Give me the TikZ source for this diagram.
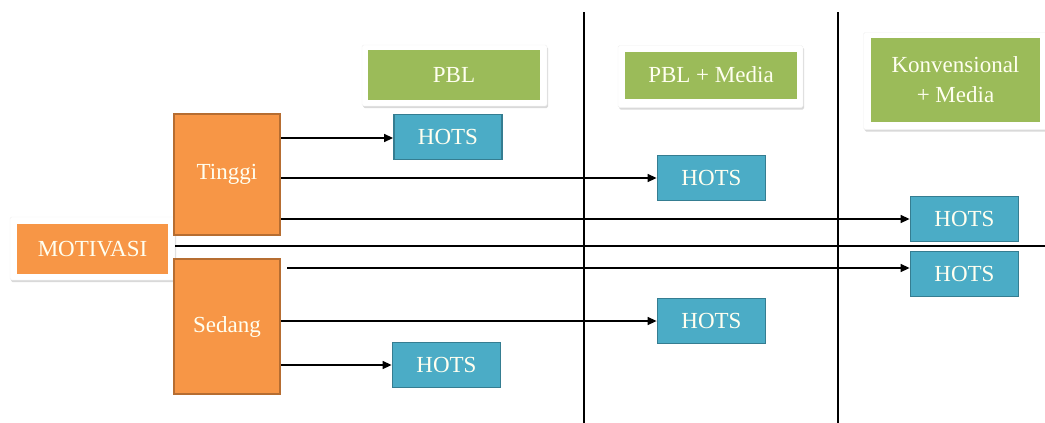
\documentclass[tikz,border=0pt]{standalone}
\usepackage{fontspec}
\setmainfont{Liberation Serif}
\usetikzlibrary{arrows.meta,shadows}

\definecolor{oranye}{HTML}{F79646}
\definecolor{oranyegelap}{HTML}{B66D31}
\definecolor{hijau}{HTML}{9BBB59}
\definecolor{biru}{HTML}{4BACC6}
\definecolor{birugelap}{HTML}{357D91}
\definecolor{krem}{HTML}{FFFFF0}

\tikzset{
  teks/.style={text=krem, font=\fontsize{23}{27}\selectfont, inner sep=0pt},
  bingkai/.style={fill=white, draw=black!6, rounded corners=1.5pt,
    drop shadow={opacity=0.3, shadow xshift=1pt, shadow yshift=-2pt}},
  metode/.style={teks, fill=hijau, minimum width=172pt, align=center},
  level/.style={teks, fill=oranye, draw=oranyegelap, line width=2pt,
    minimum width=106pt},
  hasil/.style={teks, fill=biru, draw=birugelap, line width=1.8pt,
    minimum width=108pt, minimum height=45pt},
  garis/.style={line width=1.4pt},
  panah/.style={garis, -{Triangle[length=9pt,width=8pt]}}
}

\begin{document}
\begin{tikzpicture}[x=1pt,y=-1pt]

    \useasboundingbox (0,0) rectangle (1045,423);

    % kolom
    \draw [garis] (584,12) coordinate (k1a) -- (584,423) coordinate (k1b);
    \draw [garis] (838,12) coordinate (k2a) -- (838,423) coordinate (k2b);

    % motivasi
    \node [bingkai, minimum width=165pt, minimum height=63pt] (bmotivasi) at (92.5,248.5) {};
    \node [teks, fill=oranye, minimum width=151pt, minimum height=50pt] (motivasi) at (92.5,249) {MOTIVASI};
    \coordinate (ujung) at (1045,246);
    \draw [garis] (bmotivasi.east |- ujung) -- (ujung);

    \node [level, minimum height=121pt] (tinggi) at (227,174.5) {Tinggi};
    \node [level, minimum height=135pt] (sedang) at (227,326.5) {Sedang};

    % metode
    \node [bingkai, minimum width=185pt, minimum height=61pt] (bpbl) at (454.5,75.5) {};
    \node [metode, minimum height=50pt] (pbl) at (454,75) {PBL};

    \node [bingkai, minimum width=185pt, minimum height=62pt] (bpblm) at (710.5,76.5) {};
    \node [metode, minimum height=47pt] (pblm) at (711,75) {PBL + Media};

    \node [bingkai, minimum width=185pt, minimum height=97pt] (bkonv) at (956,81) {};
    \node [metode, minimum width=169pt, minimum height=84pt] (konv) at (955.5,80) {Konvensional\\[3pt]+ Media};

    % hasil
    \node [hasil] (h1) at (448,137) {HOTS};
    \node [hasil] (h2) at (711.5,178) {HOTS};
    \node [hasil] (h3) at (964.5,219) {HOTS};
    \node [hasil] (h4) at (964.5,274) {HOTS};
    \node [hasil] (h5) at (711.5,321) {HOTS};
    \node [hasil] (h6) at (446.5,365) {HOTS};

    \draw [panah] (tinggi.east |- 0,138) -- (h1.west |- 0,138);
    \draw [panah] (tinggi.east |- h2.west) -- (h2.west);
    \draw [panah] (tinggi.east |- h3.west) -- (h3.west);
    \coordinate (s4) at (287,268);
    \draw [panah] (s4) -- (s4 -| h4.west);
    \draw [panah] (sedang.east |- h5.west) -- (h5.west);
    \draw [panah] (sedang.east |- h6.west) -- (h6.west);

\end{tikzpicture}
\end{document}
